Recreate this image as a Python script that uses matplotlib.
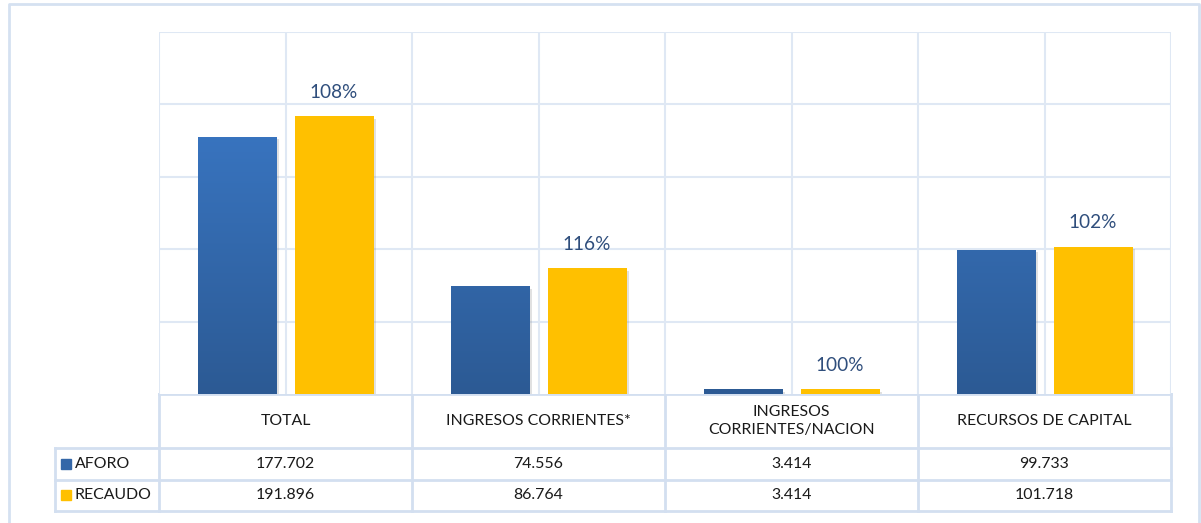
import matplotlib.pyplot as plt
import matplotlib.patheffects as pe
import numpy as np
from matplotlib.colors import LinearSegmentedColormap

categories = ["TOTAL", "INGRESOS CORRIENTES*", "INGRESOS\nCORRIENTES/NACION", "RECURSOS DE CAPITAL"]
series = ["AFORO", "RECAUDO"]
aforo = [177702, 74556, 3414, 99733]
recaudo = [191896, 86764, 3414, 101718]

W, H = 1201, 523
blue_top, blue_bot = "#3D7ED0", "#2C5A94"
yellow = "#FFC000"
grid_c = "#DFE8F4"
label_c = "#2F4E7C"
font = "Lato"

plt.rcParams["font.family"] = [font, "DejaVu Sans"]

fig = plt.figure(figsize=(W / 100, H / 100), dpi=100)

# plot area in pixel coords
px0, px1, py_top, py_base = 159, 1171, 32, 394
ax = fig.add_axes([px0 / W, 1 - py_base / H, (px1 - px0) / W, (py_base - py_top) / H])
ax.set_xlim(0, len(categories))
ax.set_ylim(0, 250000)
for y in range(50000, 250001, 50000):
    ax.axhline(y, color=grid_c, lw=1.5, zorder=0)
for x in np.arange(0, len(categories) + 0.01, 0.5):
    ax.axvline(x, color=grid_c, lw=1.5, zorder=0)
for s in ax.spines.values():
    s.set_visible(False)
ax.set_xticks([])
ax.set_yticks([])

xc = np.arange(len(categories)) + 0.5
bw = 79 / 253
off = 48.5 / 253
shadow = [pe.SimplePatchShadow(offset=(2, -2), shadow_rgbFace="#888888", alpha=0.25), pe.Normal()]
bars_a = ax.bar(xc - off, aforo, bw, color=blue_top, zorder=2, path_effects=shadow)
bars_r = ax.bar(xc + off, recaudo, bw, color=yellow, zorder=2, path_effects=shadow)

cmap = LinearSegmentedColormap.from_list("b", [blue_bot, blue_top])
grad = np.linspace(0, 1, 256).reshape(-1, 1)
for b in bars_a:
    x0 = b.get_x()
    im = ax.imshow(grad, cmap=cmap, origin="lower", aspect="auto",
                   extent=[x0, x0 + b.get_width(), 0, 250000], zorder=3)
    im.set_clip_path(b)
ax.set_xlim(0, len(categories))
ax.set_ylim(0, 250000)

for b, a, r in zip(bars_r, aforo, recaudo):
    ax.annotate(f"{round(r / a * 100)}%", (b.get_x() + b.get_width() / 2, b.get_height()),
                xytext=(0, 24), textcoords="offset pixels", ha="center", va="center",
                fontsize=13.7, color=label_c, zorder=5)

# overlay for border and data table
ov = fig.add_axes([0, 0, 1, 1], zorder=-1)
ov.set_xlim(0, W)
ov.set_ylim(H, 0)
ov.axis("off")
bc = "#D5E1F1"
ov.plot([9, 9, 1199, 1199], [H + 5, 3.5, 3.5, H + 5], color=bc, lw=2)

tc = "#D3DFF0"
col_x = [px0 + i * (px1 - px0) / len(categories) for i in range(len(categories) + 1)]
row_y = [394, 448, 479.5, 511]
leg_x = 55
ov.plot([px0, px1], [row_y[0], row_y[0]], color=tc, lw=2)
for y in row_y[1:]:
    ov.plot([leg_x, px1], [y, y], color=tc, lw=2)
for x in col_x:
    ov.plot([x, x], [row_y[0], row_y[-1]], color=tc, lw=2)
ov.plot([leg_x, leg_x], [row_y[1], row_y[-1]], color=tc, lw=2)

def fmt(v):
    return f"{v:,}".replace(",", ".")

tfs = 11.4
for i, c in enumerate(categories):
    cx = (col_x[i] + col_x[i + 1]) / 2
    ov.text(cx, (row_y[0] + row_y[1]) / 2, c, ha="center", va="center", fontsize=tfs,
            color="#1a1a1a", linespacing=1.3)
    ov.text(cx, (row_y[1] + row_y[2]) / 2, fmt(aforo[i]), ha="center", va="center",
            fontsize=tfs, color="#1a1a1a")
    ov.text(cx, (row_y[2] + row_y[3]) / 2, fmt(recaudo[i]), ha="center", va="center",
            fontsize=tfs, color="#1a1a1a")

for j, (name, col) in enumerate(zip(series, ["#3467A8", yellow])):
    yc = (row_y[j + 1] + row_y[j + 2]) / 2
    ov.add_patch(plt.Rectangle((61, yc - 5), 10, 10, color=col))
    ov.text(75, yc, name, ha="left", va="center", fontsize=tfs, color="#1a1a1a")

fig.savefig("out.png", dpi=100)
